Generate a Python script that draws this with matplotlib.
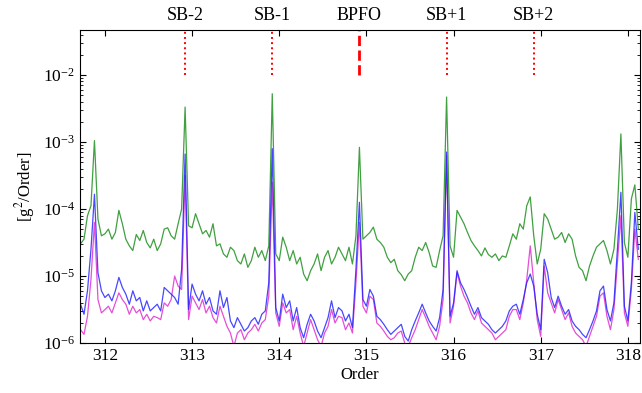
import numpy as np
import matplotlib
matplotlib.use('Agg')
import matplotlib.pyplot as plt

plt.rcParams['font.family'] = ['Liberation Serif', 'DejaVu Serif']
plt.rcParams['mathtext.fontset'] = 'stix'

# spectrum sampled every 0.04 order from 311.72 (values are log10 of g^2/Order)
order_start = 311.72
order_step = 0.04

green_log = [
    -4.52, -4.45, -4.10, -3.95, -2.98, -4.15, -4.40, -4.37, -4.30, -4.45,
    -4.35, -4.02, -4.22, -4.45, -4.55, -4.62, -4.38, -4.47, -4.32, -4.50,
    -4.58, -4.45, -4.62, -4.52, -4.30, -4.28, -4.40, -4.45, -4.22, -4.00,
    -2.48, -4.25, -4.28, -4.07, -4.22, -4.37, -4.32, -4.42, -4.22, -4.55,
    -4.52, -4.67, -4.72, -4.57, -4.62, -4.77, -4.82, -4.67, -4.87, -4.77,
    -4.57, -4.72, -4.62, -4.77, -4.55, -2.28, -4.67, -4.77, -4.42, -4.57,
    -4.77, -4.62, -4.82, -4.72, -4.97, -5.07, -4.92, -4.82, -4.67, -4.92,
    -4.72, -4.62, -4.82, -4.72, -4.57, -4.67, -4.77, -4.57, -4.82, -4.40,
    -3.08, -4.45, -4.40, -4.35, -4.27, -4.45, -4.50, -4.57, -4.72, -4.80,
    -4.75, -4.92, -4.98, -5.07, -4.97, -4.92, -4.72, -4.57, -4.62, -4.50,
    -4.65, -4.85, -4.87, -4.62, -4.40, -2.33, -4.55, -4.72, -4.02, -4.12,
    -4.22, -4.35, -4.47, -4.55, -4.62, -4.70, -4.58, -4.68, -4.72, -4.67,
    -4.77, -4.70, -4.72, -4.55, -4.37, -4.45, -4.22, -4.30, -3.95, -3.82,
    -4.40, -4.82, -4.60, -4.07, -4.15, -4.30, -4.45, -4.42, -4.35, -4.50,
    -4.37, -4.45, -4.70, -4.87, -4.92, -5.07, -4.85, -4.70, -4.57, -4.52,
    -4.47, -4.62, -4.82, -4.60, -4.00, -2.88, -4.50, -4.72, -3.85, -3.64,
    -4.30,
]

blue_log = [
    -5.42, -5.57, -5.22, -4.60, -3.78, -4.95, -5.22, -5.32, -5.27, -5.37,
    -5.22, -5.02, -5.17, -5.27, -5.42, -5.22, -5.37, -5.32, -5.52, -5.37,
    -5.52, -5.47, -5.42, -5.52, -5.17, -5.22, -5.27, -5.32, -5.42, -4.90,
    -3.18, -5.50, -5.12, -5.27, -5.37, -5.22, -5.42, -5.32, -5.52, -5.57,
    -5.22, -5.47, -5.32, -5.67, -5.77, -5.62, -5.72, -5.82, -5.77, -5.67,
    -5.62, -5.72, -5.57, -5.52, -5.10, -3.10, -5.47, -5.67, -5.27, -5.47,
    -5.37, -5.67, -5.47, -5.77, -5.92, -5.72, -5.57, -5.67, -5.82, -5.92,
    -5.77, -5.62, -5.37, -5.62, -5.47, -5.52, -5.67, -5.57, -5.77, -4.90,
    -3.90, -5.35, -5.45, -5.20, -5.30, -5.60, -5.65, -5.72, -5.80, -5.87,
    -5.82, -5.77, -5.72, -5.90, -5.97, -5.80, -5.67, -5.55, -5.42, -5.55,
    -5.67, -5.75, -5.82, -5.62, -5.20, -3.15, -5.60, -5.40, -4.92, -5.10,
    -5.20, -5.32, -5.45, -5.57, -5.47, -5.62, -5.67, -5.72, -5.80, -5.85,
    -5.80, -5.75, -5.67, -5.52, -5.45, -5.42, -5.57, -5.35, -5.10, -4.97,
    -5.15, -5.57, -5.80, -4.75, -4.95, -5.32, -5.47, -5.30, -5.45, -5.57,
    -5.50, -5.67, -5.75, -5.80, -5.87, -5.92, -5.80, -5.67, -5.52, -5.22,
    -5.15, -5.50, -5.67, -5.40, -4.60, -3.75, -5.45, -5.67, -5.10, -4.05,
    -4.60,
]

magenta_log = [
    -5.80, -5.87, -5.60, -5.05, -4.20, -5.35, -5.55, -5.50, -5.45, -5.55,
    -5.40, -5.25, -5.35, -5.42, -5.57, -5.45, -5.55, -5.50, -5.65, -5.57,
    -5.67, -5.60, -5.62, -5.65, -5.40, -5.45, -5.35, -5.00, -5.15, -5.20,
    -3.50, -5.65, -5.30, -5.40, -5.50, -5.35, -5.55, -5.45, -5.62, -5.70,
    -5.45, -5.60, -5.75, -5.85, -6.05, -5.85, -5.80, -5.95, -5.85, -5.80,
    -5.72, -5.82, -5.70, -5.65, -5.30, -3.60, -5.55, -5.75, -5.40, -5.55,
    -5.50, -5.80, -5.60, -5.85, -6.05, -5.85, -5.65, -5.80, -5.95, -6.05,
    -5.85, -5.75, -5.50, -5.70, -5.60, -5.62, -5.80, -5.70, -5.85, -5.10,
    -4.20, -5.45, -5.55, -5.30, -5.35, -5.70, -5.75, -5.82, -5.90, -5.95,
    -5.92, -5.85, -5.82, -6.00, -6.05, -5.92, -5.80, -5.65, -5.50, -5.62,
    -5.75, -5.85, -5.95, -5.75, -5.35, -3.20, -5.70, -5.45, -4.95, -5.15,
    -5.30, -5.40, -5.55, -5.65, -5.52, -5.70, -5.75, -5.80, -5.85, -5.95,
    -5.90, -5.85, -5.80, -5.60, -5.50, -5.50, -5.65, -5.40, -5.05, -4.55,
    -5.10, -5.65, -5.90, -4.85, -5.25, -5.40, -5.55, -5.35, -5.50, -5.65,
    -5.55, -5.75, -5.85, -5.90, -5.95, -6.05, -5.90, -5.75, -5.60, -5.30,
    -5.25, -5.60, -5.80, -5.50, -4.80, -4.10, -5.55, -5.75, -5.20, -4.30,
    -4.75,
]

marker_orders = [312.92, 313.92, 314.92, 315.92, 316.92]
marker_labels = ['SB-2', 'SB-1', 'BPFO', 'SB+1', 'SB+2']
marker_styles = [':', ':', '--', ':', ':']

order = order_start + order_step * np.arange(len(green_log))
green = 10.0 ** np.array(green_log)
blue = 10.0 ** np.array(blue_log)
magenta = 10.0 ** np.array(magenta_log)

fig = plt.figure(figsize=(6.42, 3.93), dpi=100)
ax = fig.add_axes([0.1246, 0.127, 0.8724, 0.797])

ax.plot(order, green, color='#1f8f1f', lw=0.9, alpha=0.85)
ax.plot(order, magenta, color='#e030d0', lw=0.9, alpha=0.85)
ax.plot(order, blue, color='#1a1aff', lw=0.9, alpha=0.8)

ax.set_yscale('log')
ax.set_xlim(311.714, 318.14)
ax.set_ylim(1e-6, 4.7e-2)

for x, lab, ls in zip(marker_orders, marker_labels, marker_styles):
    ax.vlines(x, 1e-2, 4.7e-2, colors='red', linestyles=ls,
              lw=2.0 if ls == '--' else 1.4)
    ax.annotate(lab, xy=(x, 1.0), xycoords=('data', 'axes fraction'),
                xytext=(0, 4), textcoords='offset points',
                ha='center', va='bottom', fontsize=13)

ax.set_xticks(range(312, 319))
ax.tick_params(which='both', direction='in', top=True, right=True,
               labelsize=12.5)
ax.tick_params(which='major', length=4)
ax.tick_params(which='minor', length=2)
ax.set_xlabel('Order', fontsize=12, labelpad=2)
ax.set_ylabel('[g$^2$/Order]', fontsize=12, labelpad=4)

fig.savefig('out.png', dpi=100)
